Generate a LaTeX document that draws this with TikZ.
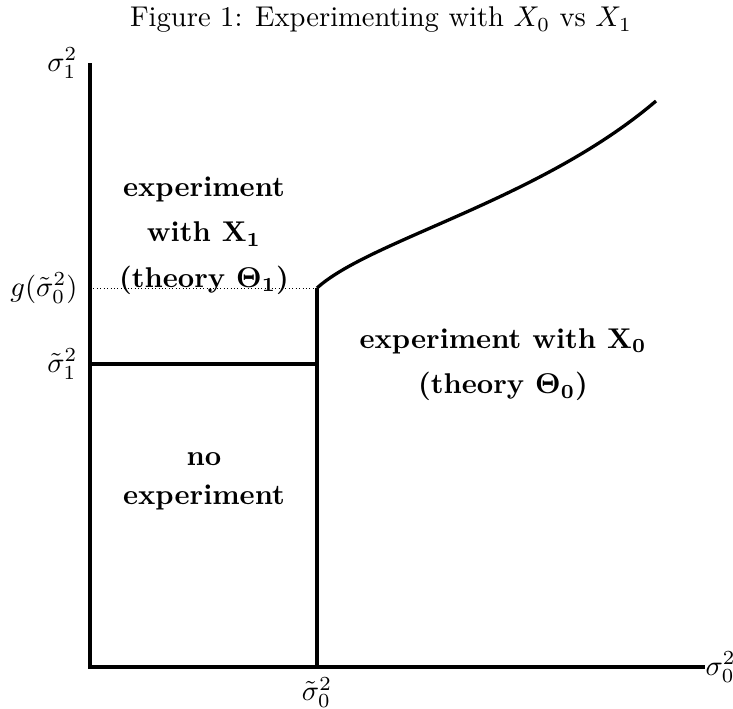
\documentclass[tikz,border=0pt]{standalone}
\usepackage{amsmath}
\usepackage{xcolor}
\usepackage{tikz}
\usetikzlibrary{calc, positioning}

\begin{document}
\begin{tikzpicture}[x=0.35pt, y=-0.35pt,
	axis/.style={line width=1.15pt},
	border/.style={line width=1.15pt},
	region/.style={font=\bfseries, text height=1.6ex, text depth=.4ex, inner sep=0pt, node distance={15.9pt}},
	tick/.style={inner sep=1pt}
	]
	\useasboundingbox (0,0) rectangle (733,709);
	\node (title) at (381,20) {Figure 1: Experimenting with $X_0$ vs $X_1$};
	% axes
	\coordinate (o) at (90,667);
	\coordinate (ytop) at (90,63);
	\coordinate (xend) at (705,667);
	\coordinate (s0) at (317,667);
	\coordinate (g0) at (317,288);
	\coordinate (gl) at (90,288);
	\coordinate (s1) at (90,364);
	\coordinate (s1r) at (317,364);
	\coordinate (cend) at (656,101);
	\draw[axis] (ytop) -- (o) -- (xend);
	\node[tick, left=3.2pt of ytop](ly) {$\sigma_1^2$};
	\node[tick, inner sep=0pt, right=0pt of xend](lx) {$\sigma_0^2$};
	\node[tick, below=2.5pt of s0](ls0) {$\tilde{\sigma}_0^2$};
	\node[tick, left=3.2pt of gl](lg) {$g(\tilde{\sigma}_0^2)$};
	\node[tick, left=3.2pt of s1](ls1) {$\tilde{\sigma}_1^2$};
	% boundaries
	\draw[densely dotted, very thin] (gl) -- (g0);
	\draw[border] (s0) -- (g0);
	\draw[border] (s1) -- (s1r);
	\draw[border] (g0) .. controls (370,240) and (540,200) .. (cend);
	% regions
	\node[region](r1a) at (204,189) {experiment};
	\node[region](r1b) [below of=r1a] {with $\mathbf{X_1}$};
	\node[region](r1c) [below of=r1b] {(theory $\boldsymbol{\Theta_1}$)};
	\node[region](r0a) at (503,341) {experiment with $\mathbf{X_0}$};
	\node[region](r0b) [below of=r0a] {(theory $\boldsymbol{\Theta_0}$)};
	\node[region](n0a) at (204,458) {no};
	\node[region, node distance={13.65pt}](n0b) [below of=n0a] {experiment};
\end{tikzpicture}
\end{document}
